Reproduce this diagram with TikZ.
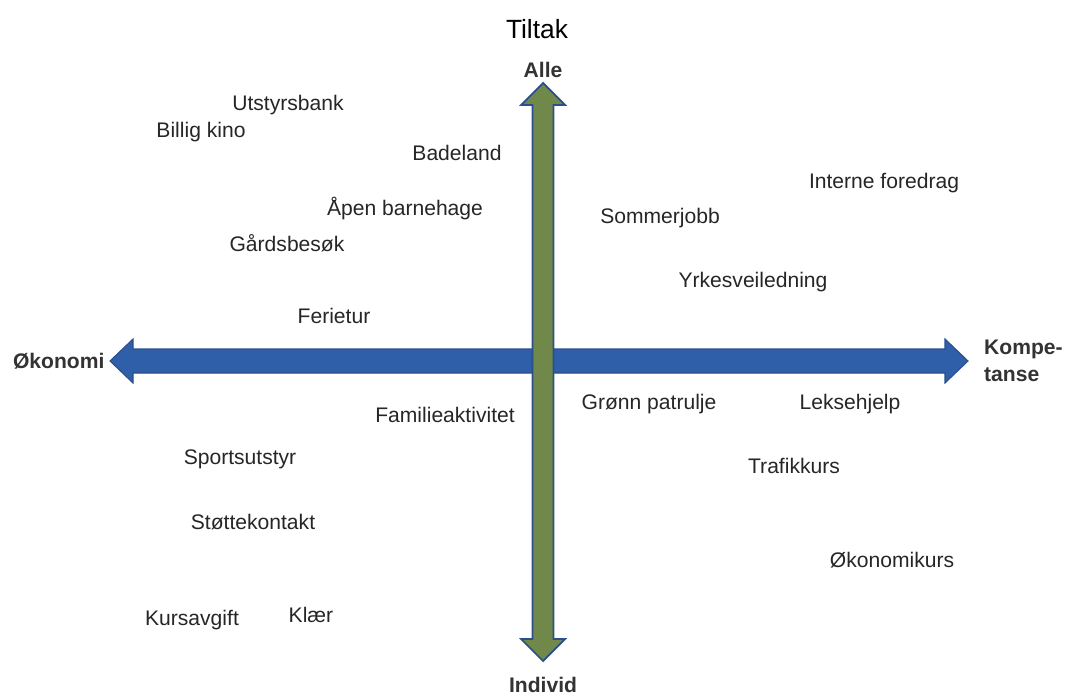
\documentclass[tikz,border=0pt]{standalone}
\usepackage{fontspec}
\setmainfont{Liberation Sans}
\usetikzlibrary{calc}
\usetikzlibrary{positioning}

\definecolor{pilblaa}{HTML}{2E5FA8}
\definecolor{kantblaa}{HTML}{2B4F8C}
\definecolor{pilgronn}{HTML}{70894A}

\begin{document}
\begin{tikzpicture}[
        x=0.02cm, y=-0.02cm,
        every node/.append style={font=\fontsize{12}{14}\selectfont, inner sep=1pt},
        akse/.style={font=\fontsize{12}{15}\selectfont\bfseries, text=black!80},
        tiltak/.style={text=black!85}
    ]
        \useasboundingbox (0,0) rectangle (1067,699);

        % horisontal pil: okonomi - kompetanse
        \coordinate (v) at (110,361);
        \coordinate (h) at (968,361);
        \fill[pilblaa, draw=kantblaa, line width=0.6pt]
            (v) -- ($(v)+(23,-22)$) -- ($(v)+(23,-12)$) -- ($(h)+(-23,-12)$) -- ($(h)+(-23,-22)$)
            -- (h) -- ($(h)+(-23,22)$) -- ($(h)+(-23,12)$) -- ($(v)+(23,12)$) -- ($(v)+(23,22)$) -- cycle;

        % vertikal pil: alle - individ
        \coordinate (o) at (543,83);
        \coordinate (n) at (543,661);
        \fill[pilgronn, draw=kantblaa, line width=1pt]
            (o) -- ($(o)+(22,22)$) -- ($(o)+(10.5,22)$) -- ($(n)+(10.5,-22)$) -- ($(n)+(22,-22)$)
            -- (n) -- ($(n)+(-22,-22)$) -- ($(n)+(-10.5,-22)$) -- ($(o)+(-10.5,22)$) -- ($(o)+(-22,22)$) -- cycle;

        \node (tittel) at (537,29) {\fontsize{15}{17}\selectfont Tiltak};
        \node[akse] (alle) [above=2pt of o] {Alle};
        \node[akse] (individ) [below=8pt of n] {Individ};
        \node[akse, anchor=east] (okonomi) [left=2pt of v] {Økonomi};
        \node[akse, anchor=west, align=left] (kompetanse) [right=8pt of h] {Kompe-\\tanse};

        \node[tiltak] (utstyr) at (288,105) {Utstyrsbank};
        \node[tiltak] (kino) at (201,132) {Billig kino};
        \node[tiltak] (bad) at (457,153) {Badeland};
        \node[tiltak] (barnehage) at (405,208) {Åpen barnehage};
        \node[tiltak] (gard) at (287,243) {Gårdsbesøk};
        \node[tiltak] (ferie) at (334,316) {Ferietur};
        \node[tiltak] (foredrag) at (884,183) {Interne foredrag};
        \node[tiltak] (sommer) at (660,218) {Sommerjobb};
        \node[tiltak] (yrke) at (753,282) {Yrkesveiledning};
        \node[tiltak] (familie) at (445,415) {Familieaktivitet};
        \node[tiltak] (patrulje) at (649,404) {Grønn patrulje};
        \node[tiltak] (lekse) at (850,404) {Leksehjelp};
        \node[tiltak] (sport) at (240,459) {Sportsutstyr};
        \node[tiltak] (trafikk) at (794,466) {Trafikkurs};
        \node[tiltak] (stotte) at (253,522) {Støttekontakt};
        \node[tiltak] (okkurs) at (892,560) {Økonomikurs};
        \node[tiltak] (kurs) at (192,620) {Kursavgift};
        \node[tiltak] (klaer) at (311,615) {Klær};
    \end{tikzpicture}
\end{document}
